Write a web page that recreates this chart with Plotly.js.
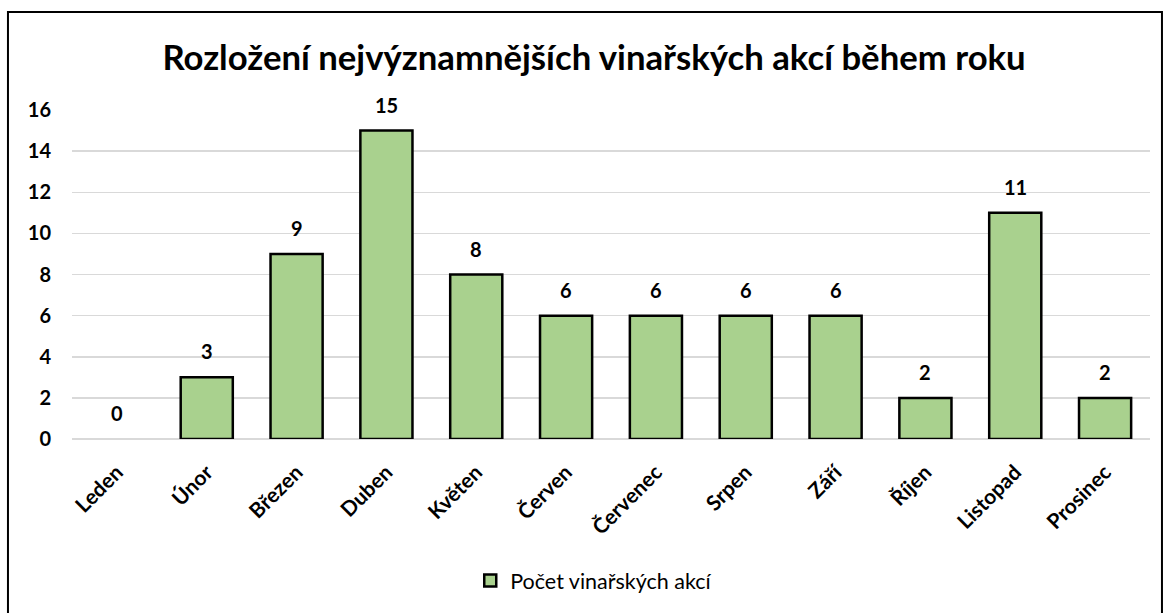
<!DOCTYPE html>
<html>
<head>
<meta charset="utf-8">
<script src="https://cdn.plot.ly/plotly-3.0.1.min.js"></script>
<style>html,body{margin:0;padding:0;background:#fff;}</style>
</head>
<body>
<div id="chart" style="width:1168px;height:613px;"></div>
<script>
const months = ["Leden","Únor","Březen","Duben","Květen","Červen","Červenec","Srpen","Září","Říjen","Listopad","Prosinec"];
const eventCounts = [0,3,9,15,8,6,6,6,6,2,11,2];
const seriesName = "Počet vinařských akcí";
const chartTitle = "Rozložení nejvýznamnějších vinařských akcí během roku";
const yTicks = [0,2,4,6,8,10,12,14,16];

const FONT = "Lato, 'Noto Sans', sans-serif";

const trace = {
  type: "bar",
  x: months,
  // zero-height bars are left undrawn (no outline), as in the original
  y: eventCounts.map(v => v === 0 ? null : v),
  name: seriesName,
  cliponaxis: false,
  marker: {color: "#a9d18e", line: {color: "#000", width: 2.5}},
  showlegend: true
};

const labels = months.map((m, i) => ({
  x: m, y: eventCounts[i], xref: "x", yref: "y",
  text: "<b>" + eventCounts[i] + "</b>",
  showarrow: false, yanchor: "bottom", yshift: 12,
  font: {family: FONT, size: 20, color: "#000"}
}));

const layout = {
  width: 1168, height: 613,
  margin: {l: 72, r: 18, t: 110, b: 174},
  paper_bgcolor: "#fff", plot_bgcolor: "#fff",
  font: {family: FONT, color: "#000"},
  title: {text: "<b>" + chartTitle + "</b>", font: {family: FONT, size: 34.7, color: "#000"}, x: 0.5086, xanchor: "center", y: 0.905, yanchor: "middle"},
  bargap: 0.42,
  xaxis: {
    tickangle: -45, showgrid: false, zeroline: false, showline: false, ticks: "",
    ticklabelstandoff: 16,
    tickfont: {family: FONT, size: 21, color: "#000", weight: "bold"},
    fixedrange: true
  },
  yaxis: {
    range: [0, 16], tickvals: yTicks, ticktext: yTicks.map(String),
    showgrid: true, gridcolor: "#d9d9d9", gridwidth: 1.5,
    zeroline: true, zerolinecolor: "#d9d9d9", zerolinewidth: 1.5,
    showline: false, ticks: "", ticklabelstandoff: 20,
    tickfont: {family: FONT, size: 20, color: "#000", weight: "bold"},
    fixedrange: true
  },
  annotations: labels,
  legend: {orientation: "h", x: 0.484, xanchor: "center", y: -0.43, yanchor: "middle", font: {family: FONT, size: 21.5, color: "#000"}, itemwidth: 30},
  shapes: [{type: "rect", xref: "paper", yref: "paper", x0: -0.0594, x1: 1.0111, y0: -0.54, y1: 1.298, line: {color: "#000", width: 2}, fillcolor: "rgba(0,0,0,0)", layer: "below"}]
};

Plotly.newPlot("chart", [trace], layout, {displayModeBar: false, staticPlot: true});
</script>
</body>
</html>
